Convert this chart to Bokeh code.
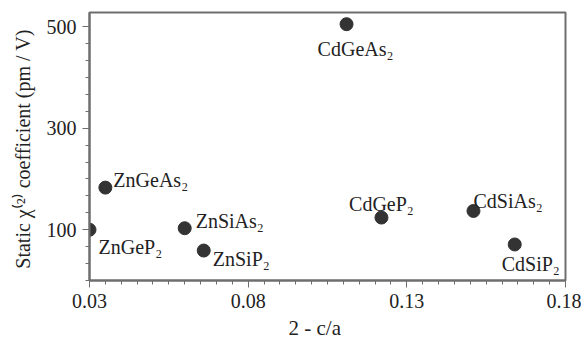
from bokeh.plotting import figure
from bokeh.models import ColumnDataSource, FixedTicker, NumeralTickFormatter, Range1d, Title
from bokeh.core.properties import value
from bokeh.embed import file_html
from bokeh.resources import INLINE

# ---- data ----
compounds = ["ZnGeP₂", "ZnGeAs₂", "ZnSiAs₂", "ZnSiP₂", "CdGeP₂", "CdSiAs₂", "CdSiP₂", "CdGeAs₂"]
distortion = [0.030, 0.035, 0.060, 0.066, 0.122, 0.151, 0.164, 0.111]   # 2 - c/a
chi2 = [100, 183, 103, 59, 124, 137, 71, 505]                           # pm / V
x_ticks = [0.03, 0.08, 0.13, 0.18]
y_ticks = [100, 300, 500]

# ---- label placement (screen px) ----
lab_dx = [9, 8, 11, 9, 0, 0, 16, 9]
lab_dy = [17, -8, -7, 8, -14, -10, 20, 25]
lab_align = ["left", "left", "left", "left", "center", "left", "center", "center"]

FONT = "Liberation Serif"
TXT = "#222222"
FRAME = "#6e6e6e"

src = ColumnDataSource(dict(x=distortion, y=chi2, name=compounds,
                            dx=lab_dx, dy=lab_dy, align=lab_align))

p = figure(width=581, height=342, output_backend="svg", toolbar_location=None,
           x_range=Range1d(0.03, 0.18), y_range=Range1d(0, 528))
p.min_border_left = 89
p.min_border_right = 16
p.min_border_top = 12
p.min_border_bottom = 10
p.background_fill_color = "white"
p.border_fill_color = "white"
p.outline_line_color = FRAME
p.outline_line_width = 2
p.grid.visible = False

p.scatter("x", "y", source=src, size=13, color="#333333", line_color="#333333")
p.text("x", "y", text="name", source=src, x_offset="dx", y_offset="dy",
       text_align="align", text_baseline="middle",
       text_font=value(FONT), text_font_size="20px", text_color=TXT)

x_minor = [round(0.03 + 0.005 * i, 4) for i in range(31)]
y_minor = [round(100 / 3 * i, 3) for i in range(16)]
p.xaxis.ticker = FixedTicker(ticks=x_ticks, minor_ticks=x_minor)
p.yaxis.ticker = FixedTicker(ticks=y_ticks, minor_ticks=y_minor)
p.xaxis.formatter = NumeralTickFormatter(format="0.00")

for ax in (p.xaxis, p.yaxis):
    ax.axis_line_color = FRAME
    ax.axis_line_width = 2
    ax.major_tick_line_color = FRAME
    ax.minor_tick_line_color = FRAME
    ax.major_tick_in = 0
    ax.major_tick_out = 7
    ax.minor_tick_in = 0
    ax.minor_tick_out = 4
    ax.major_label_text_font = FONT
    ax.major_label_text_font_size = "20px"
    ax.major_label_text_color = TXT
    ax.axis_label_text_font = FONT
    ax.axis_label_text_font_size = "20px"
    ax.axis_label_text_font_style = "normal"
    ax.axis_label_text_color = TXT

# x-axis title sits slightly left of the frame centre in the reference
xtitle = Title(text="2 - c/a", align="left", offset=199, standoff=6,
               text_font=FONT, text_font_size="21px", text_font_style="normal",
               text_color=TXT)
p.add_layout(xtitle, "below")

p.yaxis.axis_label = "Static χ⁽²⁾ coefficient  (pm / V)"
p.xaxis.major_label_standoff = 6
p.yaxis.major_label_standoff = 6
p.yaxis.axis_label_standoff = 10

open("out.html", "w").write(file_html(p, INLINE))
